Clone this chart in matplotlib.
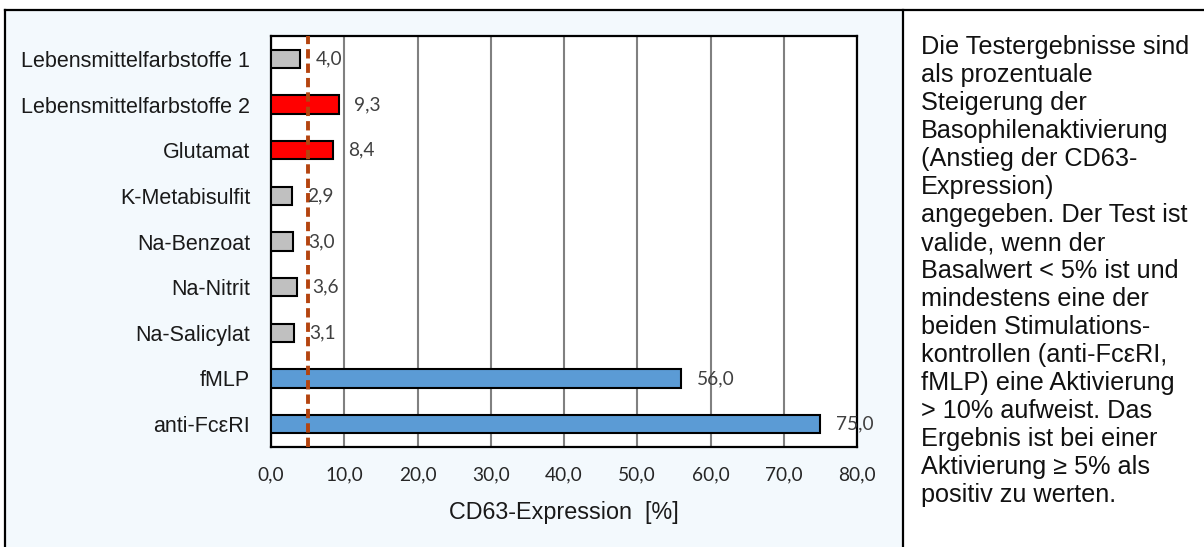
import matplotlib
matplotlib.use("Agg")
import matplotlib.pyplot as plt
from matplotlib.lines import Line2D
from matplotlib.patches import Rectangle

categories = ["Lebensmittelfarbstoffe 1", "Lebensmittelfarbstoffe 2", "Glutamat",
              "K-Metabisulfit", "Na-Benzoat", "Na-Nitrit", "Na-Salicylat",
              "fMLP", "anti-FcεRI"]
values = [4.0, 9.3, 8.4, 2.9, 3.0, 3.6, 3.1, 56.0, 75.0]
bar_colors = ["#c0c0c0", "#ff0000", "#ff0000", "#c0c0c0", "#c0c0c0",
              "#c0c0c0", "#c0c0c0", "#5b9bd5", "#5b9bd5"]
threshold = 5.0
xticks = [0, 10, 20, 30, 40, 50, 60, 70, 80]
xlabel = "CD63-Expression  [%]"
note_lines = [
    "Die Testergebnisse sind",
    "als prozentuale",
    "Steigerung der",
    "Basophilenaktivierung",
    "(Anstieg der CD63-",
    "Expression)",
    "angegeben. Der Test ist",
    "valide, wenn der",
    "Basalwert < 5% ist und",
    "mindestens eine der",
    "beiden Stimulations-",
    "kontrollen (anti-FcεRI,",
    "fMLP) eine Aktivierung",
    "> 10% aufweist. Das",
    "Ergebnis ist bei einer",
    "Aktivierung ≥ 5% als",
    "positiv zu werten.",
]

W, H = 1204, 547
fig = plt.figure(figsize=(W / 100, H / 100), dpi=100)
fig.patch.set_facecolor("white")

def fx(px):
    return px / W

def fy(py):
    return 1 - py / H

# chart-area background (light blue) with frame
bg = Rectangle((fx(5), 0), fx(903) - fx(5), fy(10), transform=fig.transFigure,
               facecolor="#f3f9fd", edgecolor="none", zorder=0)
fig.add_artist(bg)
for xs, ys in [((fx(5), fx(5)), (0, fy(10))),
               ((fx(5), 1.0), (fy(10), fy(10))),
               ((fx(903), fx(903)), (0, fy(10)))]:
    fig.add_artist(Line2D(xs, ys, transform=fig.transFigure, color="black", lw=1.6))

ax = fig.add_axes([fx(271), fy(447), fx(857) - fx(271), fy(36) - fy(447)])
ax.set_facecolor("white")
y = list(range(len(categories)))
ax.barh(y, values, height=0.4, color=bar_colors, edgecolor="black", linewidth=1.5, zorder=3)
ax.set_ylim(len(categories) - 0.5, -0.5)
ax.set_xlim(0, 80)
ax.set_xticks(xticks)
ax.set_xticklabels([f"{t:.1f}".replace(".", ",") for t in xticks],
                   fontfamily="Lato", fontsize=13.8, color="#262626")
ax.set_yticks(y)
ax.set_yticklabels(categories, fontfamily="Liberation Sans", fontsize=15.5, color="#1a1a1a")
ax.tick_params(axis="x", length=0, pad=14)
ax.tick_params(axis="y", length=0, pad=15)
ax.grid(axis="x", color="#808080", lw=1.5, zorder=1)
ax.set_axisbelow(True)
for s in ax.spines.values():
    s.set_color("black")
    s.set_linewidth(1.6)
ax.axvline(threshold, color="#b4440f", lw=2.8, ls=(0, (2.4, 1.3)), zorder=4)

for yi, v in zip(y, values):
    ax.annotate(f"{v:.1f}".replace(".", ","), (v, yi), xytext=(11, 0),
                textcoords="offset points", va="center", ha="left",
                fontfamily="Lato", fontsize=13.8, color="#404040", zorder=5)

ax.set_xlabel(xlabel, fontfamily="Liberation Sans", fontsize=16.8, color="#1a1a1a", labelpad=13)

for i, line in enumerate(note_lines):
    fig.text(fx(921), fy(47 + i * 28.0), line, fontfamily="Liberation Sans",
             fontsize=18.2, color="#111111", va="center", ha="left")

fig.savefig("out.png", dpi=100)
